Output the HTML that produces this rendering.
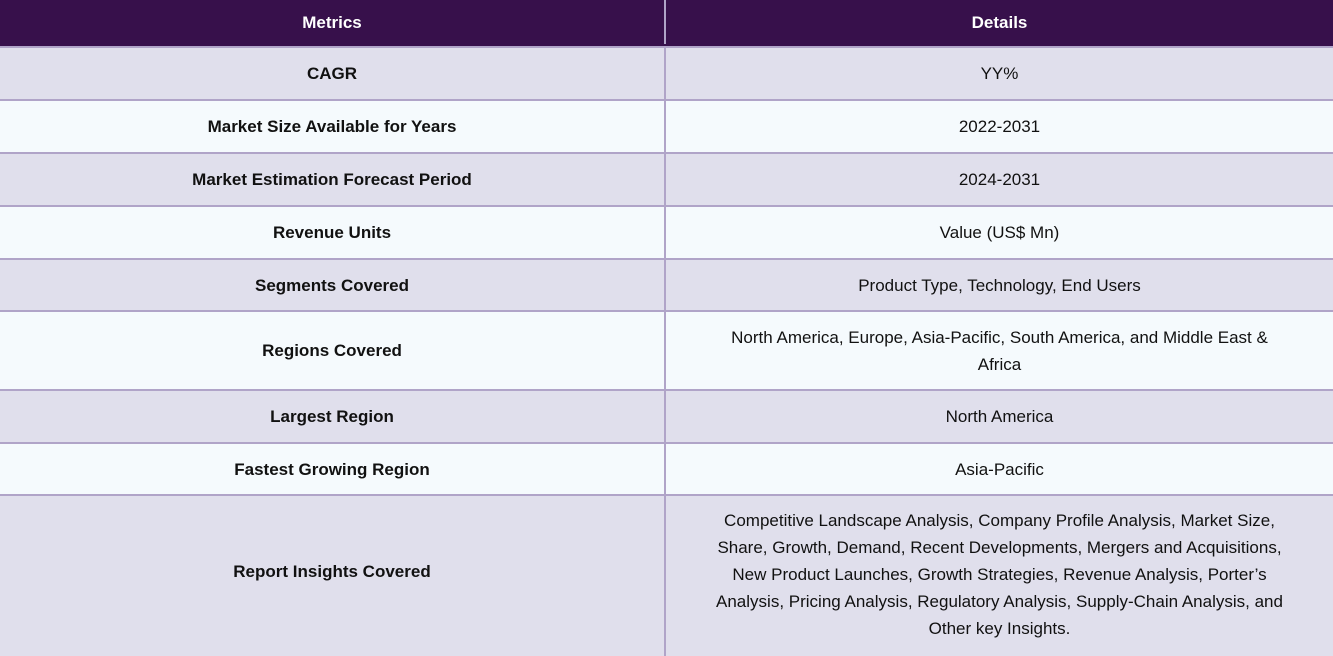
<!DOCTYPE html>
<html><head><meta charset="utf-8"><style>
body{margin:0;width:1333px;height:646px;overflow:hidden;background:#f5fafd;font-family:"Liberation Sans",sans-serif;color:#111;}
.r{position:absolute;left:0;width:1333px;display:flex;}
.c{display:flex;align-items:center;justify-content:center;text-align:center;box-sizing:border-box;font-size:17px;line-height:27px;}
.l{width:666px;font-weight:bold;border-right:2px solid #b0a4c8;}
.d{width:667px;padding:0 4px;}
.h{background:#37104b;color:#fff;}
.a{background:#e0dfec;}
.b{background:#f5fafd;}
.line{position:absolute;left:0;width:1333px;height:2px;background:#b0a4c8;}
</style></head><body>
<div>
<div class="r h" style="top:0;height:44px"><div class="c l">Metrics</div><div class="c d" style="font-weight:bold">Details</div></div>
<div class="r h" style="top:44px;height:2px"></div>
<div class="r a" style="top:48px;height:51px"><div class="c l">CAGR</div><div class="c d">YY%</div></div>
<div class="r b" style="top:101px;height:51px"><div class="c l">Market Size Available for Years</div><div class="c d">2022-2031</div></div>
<div class="r a" style="top:154px;height:51px"><div class="c l">Market Estimation Forecast Period</div><div class="c d">2024-2031</div></div>
<div class="r b" style="top:207px;height:51px"><div class="c l">Revenue Units</div><div class="c d">Value (US$ Mn)</div></div>
<div class="r a" style="top:260px;height:50px"><div class="c l">Segments Covered</div><div class="c d">Product Type, Technology, End Users</div></div>
<div class="r b" style="top:312px;height:77px"><div class="c l">Regions Covered</div><div class="c d">North America, Europe, Asia-Pacific, South America, and Middle East &amp;<br>Africa</div></div>
<div class="r a" style="top:391px;height:51px"><div class="c l">Largest Region</div><div class="c d">North America</div></div>
<div class="r b" style="top:444px;height:50px"><div class="c l">Fastest Growing Region</div><div class="c d">Asia-Pacific</div></div>
<div class="r a" style="top:496px;height:160px"><div class="c l" style="height:160px;padding-bottom:10px">Report Insights Covered</div><div class="c d" style="height:160px;align-items:flex-start;padding-top:11px">Competitive Landscape Analysis, Company Profile Analysis, Market Size,<br>Share, Growth, Demand, Recent Developments, Mergers and Acquisitions,<br>New Product Launches, Growth Strategies, Revenue Analysis, Porter’s<br>Analysis, Pricing Analysis, Regulatory Analysis, Supply-Chain Analysis, and<br>Other key Insights.</div></div>
<div class="line" style="top:46px"></div><div class="line" style="top:99px"></div><div class="line" style="top:152px"></div><div class="line" style="top:205px"></div><div class="line" style="top:258px"></div><div class="line" style="top:310px"></div><div class="line" style="top:389px"></div><div class="line" style="top:442px"></div><div class="line" style="top:494px"></div>
</div>
</body></html>
